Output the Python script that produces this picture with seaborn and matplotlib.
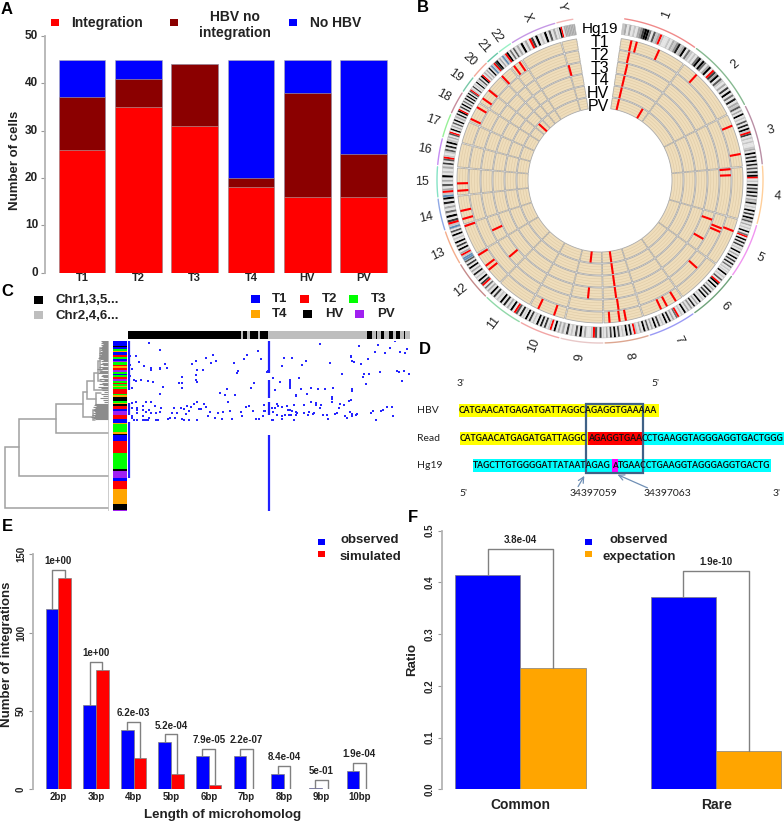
import numpy as np
import pandas as pd
import seaborn as sns
import matplotlib.pyplot as plt
from matplotlib.colors import ListedColormap
from matplotlib.patches import Polygon, Rectangle

sns.set_style("white")
plt.rcParams['font.family'] = ['Liberation Sans', 'DejaVu Sans']

W, H = 784, 822
DARK = '#222222'
BLUE, RED, ORANGE = '#0000FF', '#FF0000', '#FFA500'

# A - cells per sample
samples = ['T1', 'T2', 'T3', 'T4', 'HV', 'PV']
integration = [26, 35, 31, 18, 16, 16]
hbv_no_integration = [11, 6, 13, 2, 22, 9]
no_hbv = [8, 4, 0, 25, 7, 20]

# B - circos
chrom_names = ['1', '2', '3', '4', '5', '6', '7', '8', '9', '10', '11', '12', '13', '14',
               '15', '16', '17', '18', '19', '20', '21', '22', 'X', 'Y']
chrom_mb = [249, 243, 198, 191, 181, 171, 159, 146, 141, 136, 135, 134, 115, 107,
            103, 90, 81, 78, 59, 63, 48, 51, 155, 59]
chrom_arc_colors = ['#F08A8A', '#86B890', '#B98FA5', '#FFCF9A', '#F095F0', '#6FA37A', '#9A9AF5',
                    '#DDA690', '#E8C8C8', '#F2A5A5', '#90D8A8', '#C58A8A', '#F4AD8C', '#8FA8E5',
                    '#85E3C5', '#C58CF2', '#98F098', '#C58C9C', '#78C8A8', '#F2A898', '#68C8A8',
                    '#98F0C5', '#C598E5', '#F2B5B5']
# one character per band, 0-9 = stain, r = centromere, b = stalk
chrom_bands = ['23131213479951623r211213248239152', '121592951391r73916213171915181326',
               '1319121618192r71212112319171918', '161829r121817291713281219171926',
               '13121915r19181712191319171815121', '1912161r919131817191219131814',
               '1319121r51318191217191316', '191312r181912161917131', '1716r21131916121713',
               '13191r21718191217191', '1816r19131819121719', '13151r719121813191716',
               'bb2r31917191219161', 'b2r71915131819', 'b2r31613191213', '1716r212618192',
               '1316r1913161913', '1819r1719151819', '1916r21712191', '1619r1313191',
               'b2r79131', 'b2r91516', '1319131r719121916131', '19r13333333']
track_names = ['T1', 'T2', 'T3', 'T4', 'HV', 'PV']
# integration sites, Mb from the start of chr1
sites_t1 = [40, 60, 146, 309, 536, 643, 927, 1261, 1298, 1322, 1456, 1479, 1516, 1720, 1782, 2012,
            2030, 2077, 2193, 2220, 2250, 2324, 2351, 2592, 2640, 2678, 2715, 2785, 2842, 2866]
sites_t2 = [42, 695, 719, 934, 949, 1119, 1477]
sites_t3 = [45, 914, 1006, 1480, 1603, 2000, 2137, 3038]
sites_t4 = [45, 1480]
sites_hv = [45, 1480]
sites_pv = [45, 205, 1480, 1610, 2747]

# C - cells by integration sites
chr_strip_runs = [340, 5, 11, 10, 24, 5, 25, 295, 15, 12, 3, 13, 10, 15, 12, 8, 12, 13, 3, 14]
chr_strip_vals = [1, 0] * 10
cell_groups = ['T1', 'HV', 'T1', 'T3', 'T4', 'T1', 'T2', 'T3', 'T1', 'PV', 'T3', 'T2', 'T4', 'T2', 'PV',
               'T3', 'T1', 'T3', 'T2', 'PV', 'T3', 'T2', 'T3', 'T4', 'T3', 'T2', 'T3', 'T4', 'HV', 'T3',
               'T4', 'HV', 'T2', 'T1', 'PV', 'T2', 'T1', 'T4', 'T3', 'T4', 'HV', 'T1', 'T2', 'T3', 'HV',
               'PV', 'T1', 'T2', 'T4', 'HV', 'PV']
cell_counts = [15, 4, 6, 4, 4, 8, 7, 5, 6, 4, 8, 4, 5, 8, 5, 5, 5, 5, 5, 8, 4, 5, 5, 4, 6, 13, 3, 6, 14,
               4, 4, 6, 8, 6, 14, 10, 13, 4, 24, 4, 4, 18, 36, 48, 7, 19, 10, 24, 46, 16, 4]
group_codes = {'T1': 0, 'T2': 1, 'T3': 2, 'T4': 3, 'HV': 4, 'PV': 5}
group_colors = [BLUE, RED, '#00FF00', ORANGE, 'black', '#A020F0']
dots_left = [(73, 44), (104, 66), (15, 84), (32, 84), (42, 101), (57, 114), (15, 112), (20, 122), (78, 120),
             (78, 126), (104, 120), (104, 124), (120, 108), (125, 120), (264, 80), (243, 90), (212, 98),
             (202, 108), (258, 104), (274, 100), (367, 80), (356, 94), (326, 104), (398, 69), (408, 94),
             (217, 126), (233, 126), (340, 130), (335, 134), (425, 133), (430, 130), (15, 144), (28, 156),
             (32, 158), (47, 156), (68, 158), (83, 162), (212, 141), (171, 148), (161, 166), (171, 166),
             (212, 156), (217, 162), (115, 176), (22, 180), (171, 180), (388, 166), (378, 180), (305, 184),
             (285, 195), (300, 202), (331, 202), (104, 198), (310, 223), (445, 151), (22, 226), (32, 223),
             (63, 223), (78, 223), (89, 234), (53, 234), (37, 240), (37, 247), (37, 254), (22, 240), (109, 241),
             (146, 241), (167, 241), (177, 244), (187, 234), (197, 238), (207, 227), (217, 223), (238, 227),
             (243, 237), (223, 244), (227, 244), (192, 248), (362, 237), (372, 234), (418, 230), (440, 240),
             (418, 248), (383, 248), (347, 252), (316, 248), (295, 252), (280, 255), (254, 252), (63, 252),
             (53, 245), (73, 245), (78, 256), (94, 255), (104, 252), (140, 255), (156, 255), (182, 259),
             (53, 265), (73, 269), (94, 276), (99, 276), (22, 265), (22, 270), (27, 276), (37, 276), (53, 276),
             (57, 276), (61, 276), (65, 276), (70, 276), (135, 270), (130, 272), (151, 269), (171, 272),
             (177, 276), (192, 276), (217, 276), (248, 265), (269, 269), (290, 272), (321, 272), (352, 265),
             (393, 272), (403, 272), (414, 265), (440, 276), (445, 252)]
dots_right = [(164, 47), (282, 55), (339, 51), (391, 40), (375, 59), (427, 62), (329, 72), (360, 76), (406, 72),
              (421, 76), (257, 83), (257, 87), (56, 90), (82, 90), (122, 98), (308, 94), (262, 98), (267, 101),
              (195, 104), (288, 108), (112, 112), (51, 115), (396, 129), (401, 133), (416, 129), (432, 137),
              (344, 133), (298, 137), (313, 137), (231, 137), (293, 148), (25, 151), (102, 151), (45, 162),
              (76, 155), (76, 160), (76, 165), (76, 170), (76, 175), (76, 180), (411, 158), (303, 169), (30, 187),
              (108, 183), (138, 180), (158, 183), (179, 183), (205, 180), (262, 183), (262, 190), (127, 198),
              (92, 200), (92, 204), (200, 208), (200, 212), (257, 216), (252, 220), (200, 223), (138, 223),
              (154, 226), (154, 230), (169, 230), (117, 230), (86, 230), (35, 227), (40, 234), (66, 234), (51, 237),
              (30, 241), (69, 245), (75, 245), (164, 241), (221, 241), (226, 227), (236, 230), (81, 248), (0, 248),
              (367, 237), (380, 237), (354, 245), (349, 248), (324, 248), (318, 255), (256, 252), (25, 252), (92, 252),
              (97, 256), (117, 256), (133, 252), (148, 256), (143, 259), (215, 256), (210, 259), (35, 262), (61, 262),
              (73, 262), (79, 262), (92, 262), (128, 262), (174, 262), (185, 262), (241, 265), (246, 269), (262, 259),
              (262, 264), (272, 262), (277, 259), (385, 265), (190, 272), (51, 272), (51, 265), (86, 276), (334, 276),
              (25, 276)]
# recurrent sites: column, first row, last row
recurrent_col = [12, 12, 12, 433, 433, 433, 433]
recurrent_top = [39, 225, 281, 39, 156, 222, 321]
recurrent_bot = [186, 261, 450, 135, 210, 261, 548]
# dendrogram joins: height, top row, bottom row, height of top child, height of bottom child
dendro_joins = [(104, 357, 540, 90, 0), (90, 273, 444, 53, 0), (53, 228, 315, 26, 0), (26, 191, 267, 22, 16),
                (22, 159, 213, 15, 13), (15, 135, 186, 11, 0), (13, 195, 231, 8, 8), (16, 246, 276, 14, 14),
                (11, 100, 160, 9, 8), (9, 60, 130, 8, 7)]
leaf_rows = [39, 42, 45, 48, 51, 54, 57, 60, 63, 66, 69, 72, 75, 78, 81, 84, 87, 90, 93, 96, 100, 104, 108, 112, 116,
             120, 124, 128, 132, 136, 140, 144, 148, 152, 156, 160, 164, 168, 172, 176, 180, 186, 192, 198, 204,
             210, 216, 222, 228, 231, 234, 237, 240, 243, 246, 249, 252, 255, 258, 261, 264, 267, 270, 273]
leaf_heights = [8, 7, 8, 6, 8, 7, 8, 9, 8, 9, 7, 9, 10, 8, 10, 9, 10, 11, 9, 6, 8, 7, 9, 6, 10,
                7, 12, 9, 10, 11, 7, 8, 6, 10, 5, 9, 7, 10, 6, 11, 8, 7, 5, 8, 6,
                9, 6, 5, 14, 15, 13, 16, 14, 15, 16, 15, 14, 16, 14, 17, 15, 18, 16, 14]

# D - junction sequences
seq_hbv = 'CATGAACATGAGATGATTAGGCAGAGGTGAAAAA'
seq_read = ['CATGAACATGAGATGATTAGGC', 'AGAGGTGAA', 'CCTGAAGGTAGGGAGGTGACTGGG']
seq_hg19 = ['TAGCTTGTGGGGATTATAATAGAG', 'A', 'TGAACCTGAAGGTAGGGAGGTGACTG']

# E - microhomology
mh_lengths = ['2bp', '3bp', '4bp', '5bp', '6bp', '7bp', '8bp', '9bp', '10bp']
mh_observed = [115, 54, 38, 30, 21, 21, 10, 1, 12]
mh_simulated = [135, 76, 20, 10, 3, 0, 0, 0, 0]
mh_bracket = [140, 81, 43, 35, 26, 26, 15, 6, 17]
mh_pvalues = ['1e+00', '1e+00', '6.2e-03', '5.2e-04', '7.9e-05', '2.2e-07', '8.4e-04', '5e-01', '1.9e-04']

# F - common / rare
site_class = ['Common', 'Rare']
ratio_observed = [0.414, 0.372]
ratio_expected = [0.235, 0.074]
ratio_bracket = [0.465, 0.422]
ratio_pvalues = ['3.8e-04', '1.9e-10']

fig = plt.figure(figsize=(W / 100, H / 100), dpi=100)


def add_ax(left, top, right, bottom):
    return fig.add_axes([left / W, 1 - bottom / H, (right - left) / W, (bottom - top) / H])


def style_axis(ax, y_rotation=0, y_size=8.5):
    for side in ['top', 'right', 'bottom']:
        ax.spines[side].set_visible(False)
    ax.spines['left'].set_color('#b4b4b4')
    ax.spines['left'].set_linewidth(1.3)
    ax.tick_params(axis='y', left=True, length=3, width=0.8, color='#999999', pad=2, labelcolor=DARK)
    ax.tick_params(axis='x', bottom=False, length=0, labelcolor=DARK)
    for lab in ax.get_yticklabels():
        lab.set_fontweight('bold')
        lab.set_fontsize(y_size)
        lab.set_rotation(y_rotation)
        lab.set_va('center')
    ax.set_xlabel('')
    ax.set_ylabel('')


# ---- panel A
ax_a = add_ax(45, 36, 395, 272.5)
total_a = np.array(integration) + np.array(hbv_no_integration) + np.array(no_hbv)
mid_a = np.array(integration) + np.array(hbv_no_integration)
for vals, col in [(total_a, BLUE), (mid_a, '#8B0000'), (integration, RED)]:
    sns.barplot(x=samples, y=vals, color=col, width=0.83, saturation=1, ax=ax_a,
                edgecolor='#b0b0b0', linewidth=0.4)
ax_a.set_xlim(-0.657, 5.56)
ax_a.set_ylim(0, 50)
ax_a.set_yticks(range(0, 51, 10))
style_axis(ax_a)
ax_a.tick_params(axis='x', labelsize=8, pad=0)
for lab in ax_a.get_xticklabels():
    lab.set_fontweight('bold')

# ---- panel C
ax_strip = add_ax(128, 331, 410, 339)
chr_strip = np.repeat(chr_strip_vals, chr_strip_runs).reshape(1, -1)
sns.heatmap(chr_strip, cmap=ListedColormap(['#BEBEBE', 'black']), cbar=False, xticklabels=False,
            yticklabels=False, ax=ax_strip)

ax_cells = add_ax(113, 341, 127, 511)
cell_strip = np.repeat([group_codes[g] for g in cell_groups], cell_counts).reshape(-1, 1)
sns.heatmap(cell_strip, cmap=ListedColormap(group_colors), vmin=0, vmax=5, cbar=False,
            xticklabels=False, yticklabels=False, ax=ax_cells)

ax_dots = add_ax(128, 341, 410, 511)
dot_table = pd.DataFrame(dots_left + [(c + 420, r) for c, r in dots_right], columns=['col', 'row'])
sns.scatterplot(data=dot_table, x='col', y='row', marker='s', s=3.2, color='#2626FF', linewidth=0, ax=ax_dots)
ax_dots.vlines(recurrent_col, recurrent_top, recurrent_bot, color='#2020FF', lw=1.6)
ax_dots.set_xlim(9, 855)
ax_dots.set_ylim(549, 39)
ax_dots.axis('off')

ax_tree = add_ax(0, 341, 109, 511)
for h, top, bot, h_top, h_bot in dendro_joins:
    ax_tree.plot([h_top, h, h, h_bot], [top, top, bot, bot], color='#a0a0a0', lw=1.1, solid_joinstyle='miter')
ax_tree.hlines(leaf_rows, 0, leaf_heights, color='#8c8c8c', lw=0.8)
ax_tree.vlines(0, 39, 548, color='#c4c4c4', lw=1.2)
ax_tree.set_xlim(109, 0)
ax_tree.set_ylim(549, 39)
ax_tree.axis('off')

# ---- panel E
BAR_E = 0.673
ax_e = add_ax(33, 554.3, 375, 789.3)
mh_table = pd.DataFrame({'length': mh_lengths * 2,
                         'count': mh_observed + mh_simulated,
                         'kind': ['observed'] * 9 + ['simulated'] * 9})
sns.barplot(data=mh_table, x='length', y='count', hue='kind', palette=[BLUE, RED], width=BAR_E, saturation=1,
            legend=False, edgecolor='#808080', linewidth=0.5, ax=ax_e)
for i, top in enumerate(mh_bracket):
    x0, x1 = i - BAR_E / 4, i + BAR_E / 4
    ax_e.plot([x0, x0, x1, x1], [mh_observed[i], top, top, mh_simulated[i]], color='#808080', lw=1)
    ax_e.text(i, top + 2.5, mh_pvalues[i], ha='center', va='bottom', fontsize=7, fontweight='bold', color=DARK)
ax_e.set_xlim(-0.673, 8.42)
ax_e.set_ylim(0, 150)
ax_e.set_yticks([0, 50, 100, 150])
style_axis(ax_e, 90, 7)
ax_e.tick_params(axis='x', labelsize=7, pad=2)
for lab in ax_e.get_xticklabels():
    lab.set_fontweight('bold')

# ---- panel F
BAR_F = 0.667
ax_f = add_ax(442, 530.7, 784, 789.3)
ratio_table = pd.DataFrame({'site': site_class * 2,
                            'ratio': ratio_observed + ratio_expected,
                            'kind': ['observed'] * 2 + ['expectation'] * 2})
sns.barplot(data=ratio_table, x='site', y='ratio', hue='kind', palette=[BLUE, ORANGE], width=BAR_F, saturation=1,
            legend=False, edgecolor='#808080', linewidth=0.5, ax=ax_f)
for i, top in enumerate(ratio_bracket):
    x0, x1 = i - BAR_F / 4, i + BAR_F / 4
    ax_f.plot([x0, x0, x1, x1], [ratio_observed[i], top, top, ratio_expected[i]], color='#808080', lw=1)
    ax_f.text(i, top + 0.007, ratio_pvalues[i], ha='center', va='bottom', fontsize=7, fontweight='bold', color=DARK)
ax_f.set_xlim(-0.4, 1.347)
ax_f.set_ylim(0, 0.5)
ax_f.set_yticks([0, 0.1, 0.2, 0.3, 0.4, 0.5])
style_axis(ax_f, 90, 7)
ax_f.tick_params(axis='x', labelsize=10, pad=6)
for lab in ax_f.get_xticklabels():
    lab.set_fontweight('bold')

# ---- everything placed in picture pixels
ov = fig.add_axes([0, 0, 1, 1], zorder=10)
ov.set_xlim(0, W)
ov.set_ylim(H, 0)
ov.axis('off')


def label(x, y, s, size=9.5, weight='bold', ha='center', rotation=0, color=DARK, **kw):
    ov.text(x, y, s, fontsize=size, fontweight=weight, ha=ha, va='center', rotation=rotation, color=color,
            rotation_mode='anchor' if rotation else 'default', **kw)


def square(x, y, col, w=8, h=7):
    ov.add_patch(Rectangle((x - w / 2, y - h / 2), w, h, color=col, lw=0))


for letter, x, y in [('A', 7, 10), ('B', 423, 8), ('C', 7, 291), ('D', 425, 349), ('E', 7, 526), ('F', 413, 517)]:
    label(x, y, letter, size=12, color='black')

# A legend and axis title
for x, col in [(55, RED), (174, '#8B0000'), (293, BLUE)]:
    square(x, 23, col)
label(107, 23, 'Integration', 10)
label(235, 25, 'HBV no\nintegration', 10)
label(336, 23, 'No HBV', 10)
label(15, 160, 'Number of cells', 9.5, rotation=90)

# C legend
square(39, 299.5, 'black', 9, 8)
square(39, 315.5, '#BEBEBE', 9, 8)
label(56, 299.5, 'Chr1,3,5...', 9.5, ha='left')
label(56, 315.5, 'Chr2,4,6...', 9.5, ha='left')
legend_c = [('T1', 256, 280, 299), ('T2', 305, 330, 299), ('T3', 354, 379, 299),
            ('T4', 256, 280, 314), ('HV', 308, 334, 314), ('PV', 360, 386, 314)]
for (name, xs, xt, y), col in zip(legend_c, group_colors):
    square(xs, y, col, 9, 8)
    label(xt, y, name, 9.5)

# E / F titles and legends
label(7, 654, 'Number of integrations', 9.5, rotation=90)
label(223, 814.5, 'Length of microhomolog', 9.6)
square(322, 542, BLUE, 7, 6.5)
square(322, 554, RED, 7, 6.5)
label(341, 540, 'observed', 9.5, ha='left')
label(340, 557, 'simulated', 9.5, ha='left')
label(412, 659, 'Ratio', 9.5, rotation=90)
square(588.7, 542, BLUE, 7, 6.5)
square(588.7, 554, ORANGE, 7, 6.5)
label(639, 540, 'observed', 9.5)
label(639, 557, 'expectation', 9.5)

# ---- panel B
CX, CY = 600, 180
START, END = 8.3, 350.8
DEG_PER_MB = (END - START) / sum(chrom_mb)


def polar(angle, r):
    t = np.radians(angle)
    return CX + r * np.sin(t), CY - r * np.cos(t)


def sector(a0, a1, r0, r1, **kw):
    a = np.linspace(a0, a1, max(int(a1 - a0) * 2 + 2, 2))
    xo, yo = polar(a, r1)
    xi, yi = polar(a[::-1], r0)
    ov.add_patch(Polygon(np.column_stack([np.r_[xo, xi], np.r_[yo, yi]]), closed=True, **kw))


site_lists = [sites_t1, sites_t2, sites_t3, sites_t4, sites_hv, sites_pv]
track_outer = [143, 131, 119, 107, 95, 83]
TRACK_W = 11
starts = START + DEG_PER_MB * np.r_[0, np.cumsum(chrom_mb)[:-1]]
ends = starts + DEG_PER_MB * np.array(chrom_mb)

for a0, a1, bands, arc_col, name in zip(starts, ends, chrom_bands, chrom_arc_colors, chrom_names):
    # tan tracks
    for r1 in track_outer:
        sector(a0 + 0.25, a1 - 0.25, r1 - TRACK_W, r1, facecolor='#EFDDBB', edgecolor='#ababab', lw=0.6)
    # ideogram
    width = (a1 - a0) / len(bands)
    for j, b in enumerate(bands):
        if b == 'r':
            col = RED
        elif b == 'b':
            col = '#5B8DB8'
        else:
            col = str(1 - int(b) / 9)
        sector(a0 + j * width, a0 + (j + 1) * width, 147, 158, facecolor=col, edgecolor='none', lw=0)
    sector(a0, a1, 147, 158, facecolor='none', edgecolor='#b8b8b8', lw=0.3)
    # outer coloured arc
    a = np.linspace(a0 + 0.4, a1 - 0.4, 30)
    ov.plot(*polar(a, 163), color=arc_col, lw=1)
    # chromosome number
    mid = (a0 + a1) / 2
    rot = 90 - mid if mid <= 180 else 270 - mid
    x, y = polar(mid, 178)
    ov.text(x, y, name, fontsize=9, color=DARK, ha='center', va='center', rotation=rot, rotation_mode='anchor')

# fine rings inside the tracks
ring_angle = np.linspace(START, END, 240)
for r1 in track_outer:
    for step in [2.7, 5.4, 8.1]:
        ov.plot(*polar(ring_angle, r1 - step), color='#DCC8A3', lw=0.35)

# integration sites
for sites, r1 in zip(site_lists, track_outer):
    for mb in sites:
        ang = START + mb * DEG_PER_MB
        xr, yr = polar(ang, np.array([r1 - TRACK_W, r1]))
        ov.plot(xr, yr, color=RED, lw=1.5, solid_capstyle='butt')

ov.text(618, 29, 'Hg19', fontsize=11, color='black', ha='right', va='center')
ov.text(609, 74.5, '\n'.join(track_names), fontsize=11.5, color='black', ha='right', va='center', linespacing=0.82)

# ---- panel D
renderer = fig.canvas.get_renderer()
YELLOW, CYAN = '#FFFF00', '#00FFFF'


def seq_segment(s, x0, x1, y, col):
    ov.add_patch(Rectangle((x0, y - 6.5), x1 - x0, 13, color=col, lw=0))
    t = ov.text(x0, y, s, family='Lato', fontweight='bold', fontsize=7, ha='left', va='center', color='#101010')
    t.set_fontsize(7 * (x1 - x0) / t.get_window_extent(renderer).width)
    return t


seq_segment(seq_hbv, 459, 659.3, 410.7, YELLOW)
seq_segment(seq_read[0], 460, 587.7, 438, YELLOW)
seq_segment(seq_read[1], 587.7, 642, 438, RED)
seq_segment(seq_read[2], 642, 784, 438, CYAN)
seq_segment(seq_hg19[0], 473.3, 612.3, 465, CYAN)
seq_segment(seq_hg19[1], 612.3, 618, 465, '#FF00FF')
seq_segment(seq_hg19[2], 618, 770.7, 465, CYAN)

ov.add_patch(Rectangle((585.7, 404.3), 57.6, 69, fill=False, edgecolor='#3F6187', lw=1.6))
for (x0, y0), (x1, y1) in [((576.7, 489), (585.7, 473.5)), ((650, 489), (615, 473.5))]:
    ov.annotate('', xy=(x1, y1), xytext=(x0, y0), arrowprops=dict(arrowstyle='->', color='#6F8FB5', lw=0.9))

for s, x, y in [('HBV', 416.7, 410.7), ('Read', 416.7, 438), ('Hg19', 416.7, 465)]:
    ov.text(x, y, s, family='Lato', fontsize=7.5, ha='left', va='center', color=DARK)
for s, x, y in [("3'", 460.7, 383), ("5'", 655.7, 383), ("5'", 463.3, 493), ('34397059', 593.3, 493),
                ('34397063', 667.3, 493), ("3'", 776.7, 493)]:
    ov.text(x, y, s, family='Lato', fontsize=7.5, ha='center', va='center', color=DARK)

fig.savefig('out.png', dpi=100)
